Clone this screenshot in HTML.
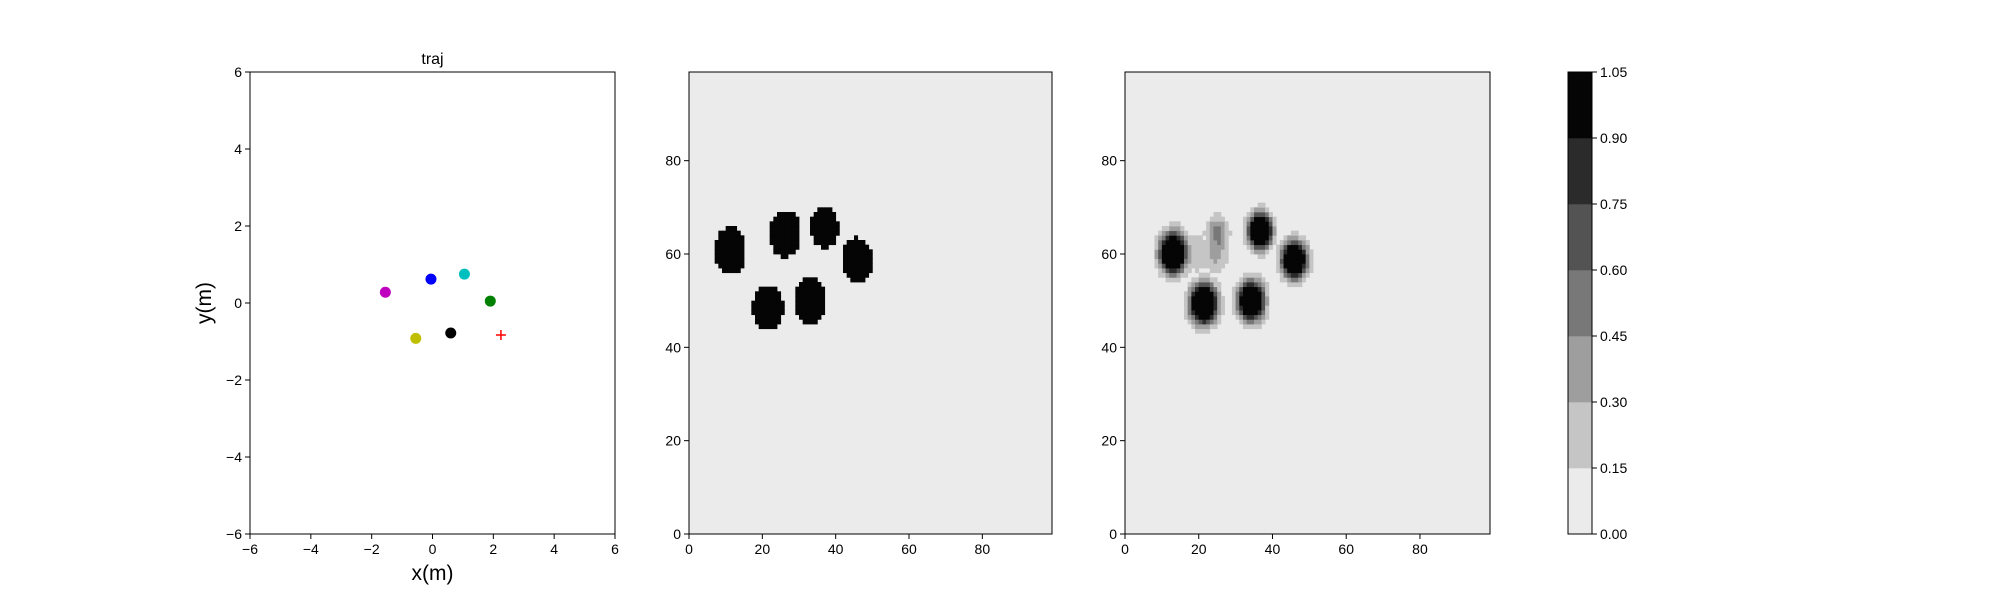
<!DOCTYPE html>
<html><head><meta charset="utf-8"><style>
html,body{margin:0;padding:0;background:#fff;}
svg{display:block;font-family:"Liberation Sans","DejaVu Sans",sans-serif;}
</style></head><body>
<svg id="fig" width="2000" height="600" viewBox="0 0 2000 600">
<g id="p1"></g>
<g id="p2"></g>
<g id="p3"></g>
<g id="cb"></g>
</svg>
<script>
// ---- data ----
const trajTicks = [-6,-4,-2,0,2,4,6];
const agentX = [-1.55,-0.05,1.05,1.9,-0.55,0.6];
const agentY = [0.28,0.62,0.75,0.05,-0.92,-0.78];
const agentColors = ['#bf00bf','#0000ff','#00bfbf','#008000','#bfbf00','#000000'];
const targetX = [2.25];
const targetY = [-0.83];
const mapTicks = [0,20,40,60,80];
const gtBlobX = [11.2,26.2,36.9,45.9,21.6,33.0];
const gtBlobY = [60.7,64.4,65.7,58.6,48.5,50.0];
const gtBlobR = [4.3,4.3,3.8,4.2,4.2,4.2];
const estBlobX = [13.1,21.3,34.2,36.6,45.9,25.0,25.6,24.5,19.5];
const estBlobY = [60.3,49.4,50.0,65.0,58.8,64.5,62.5,60.5,60.2];
const estBlobA = [2.0,2.0,2.0,2.0,2.0,0.55,0.5,0.36,0.3];
const estBlobS = [2.4,2.4,2.3,2.1,2.2,2.2,1.8,2.9,2.8];
const levels = [0,0.15,0.30,0.45,0.60,0.75,0.90,1.05];
const levelLabels = ['0.00','0.15','0.30','0.45','0.60','0.75','0.90','1.05'];
const levelColors = ['#ebebeb','#c5c5c5','#9e9e9e','#787878','#535353','#2b2b2b','#050505'];

const NS='http://www.w3.org/2000/svg';
function mk(parent,tag,attrs,text){const e=document.createElementNS(NS,tag);for(const k in attrs)e.setAttribute(k,attrs[k]);if(text!==undefined)e.textContent=text;parent.appendChild(e);return e;}
const TOP=72,BOT=534;
function fmt(v){return v<0?'\u2212'+(-v):String(v);}

// ---- panel 1 ----
(function(){
const g=document.getElementById('p1');
const L=250,R=615;
const sx=v=>L+(v+6)/12*(R-L), sy=v=>BOT-(v+6)/12*(BOT-TOP);
for(let i=0;i<agentX.length;i++){
 const c=mk(g,'circle',{cx:sx(agentX[i]),cy:sy(agentY[i]),r:5.5,fill:agentColors[i]});
 
 
}
for(let i=0;i<targetX.length;i++){
 const x=sx(targetX[i]),y=sy(targetY[i]);
 const p=mk(g,'path',{d:`M${x-5},${y}H${x+5}M${x},${y-5}V${y+5}`,stroke:'#ff0000','stroke-width':1.5});
 
 
}
mk(g,'rect',{x:L,y:TOP,width:R-L,height:BOT-TOP,fill:'none',stroke:'#000','stroke-width':1});
trajTicks.forEach(t=>{
 const x=sx(t),y=sy(t);
 mk(g,'line',{x1:x,x2:x,y1:BOT,y2:BOT+5,stroke:'#000'});
 const a=mk(g,'text',{x:x,y:BOT+20,'font-size':14,'text-anchor':'middle'},fmt(t));
 
 mk(g,'line',{x1:L-5,x2:L,y1:y,y2:y,stroke:'#000'});
 const b=mk(g,'text',{x:L-8,y:y+5,'font-size':14,'text-anchor':'end'},fmt(t));
 
});
mk(g,'text',{x:(L+R)/2,y:64,'font-size':16,'text-anchor':'middle',},'traj');
mk(g,'text',{x:(L+R)/2,y:580,'font-size':21,'text-anchor':'middle',},'x(m)');
mk(g,'text',{x:0,y:0,'font-size':21,'text-anchor':'middle',transform:`translate(211,${(TOP+BOT)/2}) rotate(-90)`,},'y(m)');
})();

// ---- map panels ----
function levelColor(v){for(let i=levels.length-2;i>=0;i--){if(v>=levels[i])return levelColors[i];}return levelColors[0];}
function drawMap(id,L,R,field){
 const g=document.getElementById(id);
 const N=99;
 const sx=v=>L+v/N*(R-L), sy=v=>BOT-v/N*(BOT-TOP);
 mk(g,'rect',{x:L,y:TOP,width:R-L,height:BOT-TOP,fill:levelColors[0]});
 for(let i=0;i<N;i++)for(let j=0;j<N;j++){
  const v=field(i+0.5,j+0.5);
  if(v<levels[1])continue;
  const r=mk(g,'rect',{x:sx(i),y:sy(j+1),width:sx(i+1)-sx(i)+0.4,height:sy(j)-sy(j+1)+0.4,fill:levelColor(v)});
  
  
 }
 mk(g,'rect',{x:L,y:TOP,width:R-L,height:BOT-TOP,fill:'none',stroke:'#000','stroke-width':1});
 mapTicks.forEach(t=>{
  const x=sx(t),y=sy(t);
  mk(g,'line',{x1:x,x2:x,y1:BOT,y2:BOT+5,stroke:'#000'});
  const a=mk(g,'text',{x:x,y:BOT+20,'font-size':14,'text-anchor':'middle'},String(t));
  
  mk(g,'line',{x1:L-5,x2:L,y1:y,y2:y,stroke:'#000'});
  const b=mk(g,'text',{x:L-8,y:y+5,'font-size':14,'text-anchor':'end'},String(t));
  
 });
}
drawMap('p2',689,1052,(x,y)=>{
 for(let k=0;k<gtBlobX.length;k++){const dx=x-gtBlobX[k],dy=(y-gtBlobY[k])*0.85;if(dx*dx+dy*dy<gtBlobR[k]*gtBlobR[k])return 1;}
 return 0;
});
drawMap('p3',1125,1490,(x,y)=>{
 let m=0;
 for(let k=0;k<estBlobX.length;k++){const dx=x-estBlobX[k],dy=(y-estBlobY[k])*0.85;const v=estBlobA[k]*Math.exp(-(dx*dx+dy*dy)/(2*estBlobS[k]*estBlobS[k]));if(v>m)m=v;}
 return Math.min(m,1);
});

// ---- colorbar ----
(function(){
 const g=document.getElementById('cb');
 const L=1568,R=1592;
 const sy=v=>BOT-(v-levels[0])/(levels[levels.length-1]-levels[0])*(BOT-TOP);
 for(let i=0;i<levelColors.length;i++){
  const r=mk(g,'rect',{x:L,y:sy(levels[i+1]),width:R-L,height:sy(levels[i])-sy(levels[i+1])+0.3,fill:levelColors[i]});
  
  
 }
 mk(g,'rect',{x:L,y:TOP,width:R-L,height:BOT-TOP,fill:'none',stroke:'#000','stroke-width':1});
 levels.forEach((v,i)=>{
  const y=sy(v);
  mk(g,'line',{x1:R,x2:R+5,y1:y,y2:y,stroke:'#000'});
  const t=mk(g,'text',{x:R+8,y:y+5,'font-size':14},levelLabels[i]);
  
  
 });
})();
</script>
</body></html>
